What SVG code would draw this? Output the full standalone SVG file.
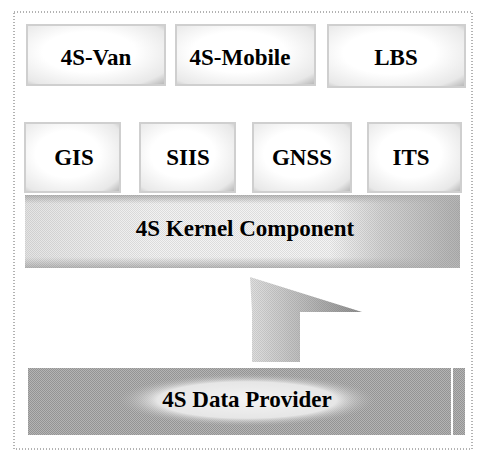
<svg xmlns="http://www.w3.org/2000/svg" width="478" height="451" viewBox="0 0 478 451">
  <defs>
    <style>
      .lbl { font-family: "Liberation Serif", "Times New Roman", serif; font-weight: bold; font-size: 23px; fill: #000; text-anchor: middle; }
      .box { fill: url(#boxGrad); stroke: #cfcfcf; stroke-width: 2; }
      .frame { fill: none; stroke: #666; stroke-width: 1; stroke-dasharray: 1 2; }
    </style>
    <pattern id="dots" width="2" height="2" patternUnits="userSpaceOnUse">
      <rect x="0" y="0" width="1" height="1" fill="#000" fill-opacity="0.18"/>
      <rect x="1" y="1" width="1" height="1" fill="#000" fill-opacity="0.18"/>
    </pattern>
    <radialGradient id="boxGrad" cx="0.45" cy="0.45" r="0.75">
      <stop offset="0.45" stop-color="#ffffff"/>
      <stop offset="0.85" stop-color="#e8e8e8"/>
      <stop offset="1" stop-color="#bdbdbd"/>
    </radialGradient>
    <linearGradient id="kernelGrad" x1="0" y1="0" x2="1" y2="0">
      <stop offset="0" stop-color="#e4e4e4"/>
      <stop offset="0.3" stop-color="#f2f2f2"/>
      <stop offset="0.7" stop-color="#f4f4f4"/>
      <stop offset="0.82" stop-color="#d2d2d2"/>
      <stop offset="1" stop-color="#b4b4b4"/>
    </linearGradient>
    <linearGradient id="kernelEdge" x1="0" y1="0" x2="0" y2="1">
      <stop offset="0" stop-color="#b8b8b8"/>
      <stop offset="0.12" stop-color="#b8b8b8" stop-opacity="0"/>
      <stop offset="0.85" stop-color="#b8b8b8" stop-opacity="0"/>
      <stop offset="1" stop-color="#b8b8b8"/>
    </linearGradient>
    <radialGradient id="dataGlow" cx="0.5" cy="0.5" r="0.5">
      <stop offset="0" stop-color="#f4f4f4"/>
      <stop offset="0.7" stop-color="#e6e6e6"/>
      <stop offset="1" stop-color="#b4b4b4" stop-opacity="0"/>
    </radialGradient>
    <linearGradient id="arrowGrad" x1="0" y1="0" x2="1" y2="0">
      <stop offset="0" stop-color="#e0e0e0"/>
      <stop offset="0.5" stop-color="#bababa"/>
      <stop offset="1" stop-color="#909090"/>
    </linearGradient>
  </defs>
  <rect x="0" y="0" width="478" height="451" fill="#ffffff"/>
  <g id="frame">
    <path class="frame" d="M14 12 H472 V449 H14 Z"/>
  </g>
  <g id="van">
    <rect class="box" x="27" y="25" width="138" height="60"/>
    <text class="lbl" x="96" y="65">4S-Van</text>
  </g>
  <g id="mobile">
    <rect class="box" x="176" y="25" width="139" height="60"/>
    <text class="lbl" x="240" y="65">4S-Mobile</text>
  </g>
  <g id="lbs">
    <rect class="box" x="328" y="25" width="137" height="62"/>
    <text class="lbl" x="396" y="65">LBS</text>
  </g>
  <g id="gis">
    <rect class="box" x="25" y="123" width="95" height="69"/>
    <text class="lbl" x="74" y="165">GIS</text>
  </g>
  <g id="siis">
    <rect class="box" x="140" y="123" width="95" height="69"/>
    <text class="lbl" x="188" y="165">SIIS</text>
  </g>
  <g id="gnss">
    <rect class="box" x="253" y="123" width="98" height="69"/>
    <text class="lbl" x="302" y="165">GNSS</text>
  </g>
  <g id="its">
    <rect class="box" x="368" y="123" width="93" height="69"/>
    <text class="lbl" x="411" y="165">ITS</text>
  </g>
  <g id="kernel">
    <rect x="25" y="195" width="435" height="73" fill="url(#kernelGrad)"/>
    <rect x="25" y="195" width="435" height="73" fill="url(#kernelEdge)"/>
    <rect x="25" y="195" width="435" height="73" fill="url(#dots)" opacity="0.5"/>
    <text class="lbl" x="245" y="236">4S Kernel Component</text>
  </g>
  <g id="connectors">
    <path d="M250 277 L362 312 L300 312 L300 362 L252 362 L252 312 Z" fill="url(#arrowGrad)"/>
    <path d="M250 277 L362 312 L300 312 L300 362 L252 362 L252 312 Z" fill="url(#dots)" opacity="0.5"/>
  </g>
  <g id="dataprovider">
    <rect x="28" y="368" width="437" height="67" fill="#b4b4b4"/>
    <rect x="28" y="368" width="437" height="67" fill="url(#dots)"/>
    <ellipse cx="247" cy="400" rx="128" ry="26" fill="url(#dataGlow)"/>
    <line x1="452" y1="368" x2="452" y2="435" stroke="#ffffff" stroke-width="2"/>
    <text class="lbl" x="247" y="407">4S Data Provider</text>
  </g>
</svg>
